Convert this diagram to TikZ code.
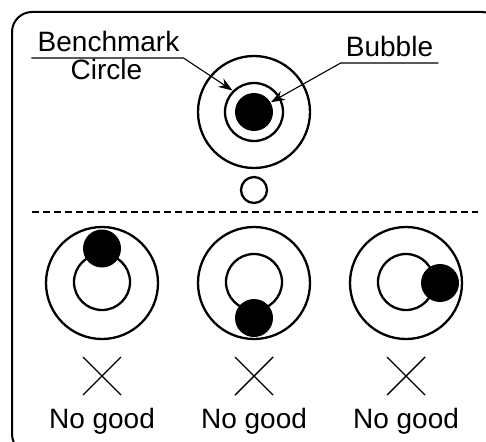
\documentclass[tikz,border=0pt]{standalone}
\usepackage{fontspec}
\setmainfont{Liberation Sans}
\usetikzlibrary{arrows.meta}

\begin{document}
\begin{tikzpicture}[x=1pt,y=-1pt,
    ring/.style={line width=2.3pt},
    lbl/.style={font=\fontsize{28}{32}\selectfont,inner sep=0pt,anchor=base},
    pointer/.style={line width=1.1pt,-{Stealth[length=14pt,width=10pt]}}]
        \clip (0,0) rectangle (486,441);
        \draw[line width=2pt,rounded corners=20pt] (12,12) rectangle (502,454);
        % correct position
        \coordinate (level) at (254,112);
        \draw[ring] (level) circle (56) (level) circle (29);
        \fill (level) circle (19);
        \draw[ring] (254,190) circle (13);
        \coordinate (benchtip) at ([shift={(225:30.5)}]level);
        \coordinate (bubbletip) at ([shift={(330:19.5)}]level);
        \node[lbl] (bench) at (108.5,52) {Benchmark};
        \node[lbl] (circ) at (106.5,80) {Circle};
        \node[lbl] (bubble) at (389.5,57) {Bubble};
        \draw[pointer] ([shift={(-6,6)}]bench.base west)--([shift={(4,6)}]bench.base east)--(benchtip);
        \draw[pointer] ([shift={(5,6)}]bubble.base east)--([shift={(-5,6)}]bubble.base west)--(bubbletip);
        \draw[line width=1.3pt,dash pattern=on 7pt off 4pt] (32,212)--(478,212);
        % wrong positions
        \foreach \cx/\dx/\dy [count=\i] in {102/0/-34.5, 254/0/35, 406/34/0}{
          \coordinate (vial\i) at (\cx,283);
          \draw[ring] (vial\i) circle (56);
          \draw[ring] ([yshift=1]vial\i) circle (28);
          \fill ([shift={(\dx,\dy)}]vial\i) circle (19);
          \node[lbl] (nogood\i) at (\cx,428) {No good};
          \draw[line width=1.4pt] ([shift={(-19,-71)}]nogood\i.base)--([shift={(19,-33)}]nogood\i.base)
            ([shift={(19,-71)}]nogood\i.base)--([shift={(-19,-33)}]nogood\i.base);
        }
      \end{tikzpicture}
\end{document}
